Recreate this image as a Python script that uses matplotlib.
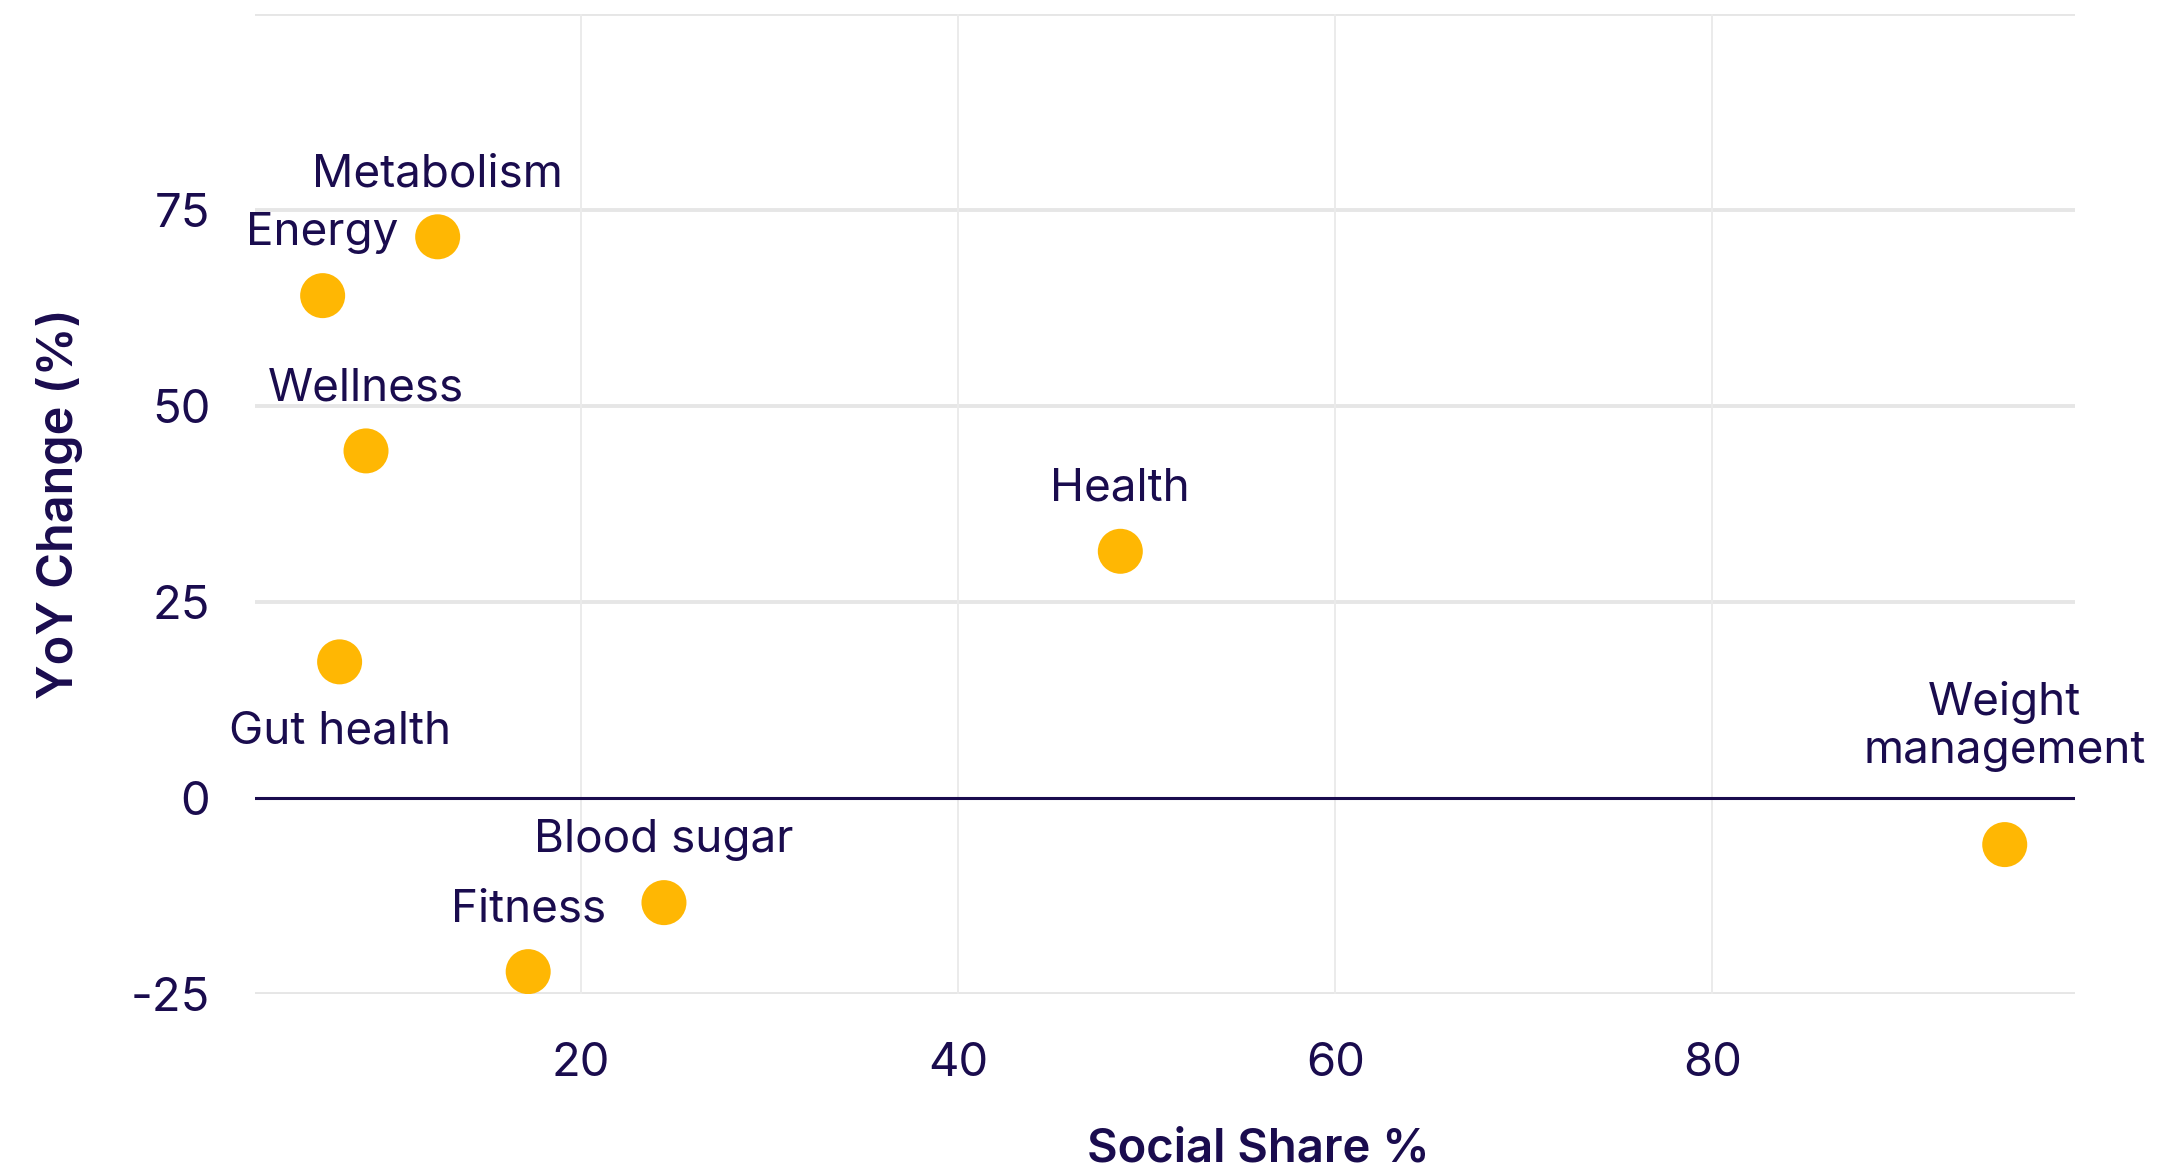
import numpy as np
import matplotlib.pyplot as plt

plt.rcParams['font.family'] = ['Inter', 'DejaVu Sans']

# data
topics = ['Metabolism', 'Energy', 'Wellness', 'Gut health', 'Health',
          'Blood sugar', 'Fitness', 'Weight\nmanagement']
social_share = [12.4, 6.3, 8.6, 7.2, 48.6, 24.4, 17.2, 95.5]
yoy_change = [71.6, 64.1, 44.3, 17.4, 31.5, -13.3, -22.1, -5.9]
label_pos = ['top', 'top', 'top', 'bottom', 'top', 'top', 'top', 'top']

x_ticks = [20, 40, 60, 80]
y_ticks = [-25, 0, 25, 50, 75]

NAVY = '#1a0c4e'
GOLD = '#ffb703'

fig = plt.figure(figsize=(21.83, 11.74), dpi=100)
ax = fig.add_axes([0.1167, 0.153, 0.8336, 0.835])

ax.set_xlim(2.7, 99.2)
ax.set_ylim(-25, 100)
ax.set_xticks(x_ticks)
ax.set_yticks(y_ticks)

# grid
for yv in y_ticks[:1] + y_ticks[2:] + [100]:
    ax.axhline(yv, color='#e6e6e6', lw=2.8, zorder=0)
for xv in x_ticks:
    ax.axvline(xv, color='#ebebeb', lw=1.4, zorder=0)
ax.axhline(0, color=NAVY, lw=2.2, zorder=1)

for s in ax.spines.values():
    s.set_visible(False)
ax.tick_params(length=0, labelsize=34, labelcolor=NAVY)
ax.tick_params(axis='y', pad=32)
ax.tick_params(axis='x', pad=34)
ax.set_yticklabels(['-25', '0', '25', '50', '75'])

ax.scatter(social_share, yoy_change, s=1050, color=GOLD, edgecolors='none', zorder=3)

for name, xv, yv, pos in zip(topics, social_share, yoy_change, label_pos):
    if '\n' in name:
        off = 85
    elif pos == 'top':
        off = 45
    else:
        off = -50
    ax.annotate(name, (xv, yv), xytext=(0, off), textcoords='offset points',
                ha='center', va='center', fontsize=33, color=NAVY,
                linespacing=1.2, zorder=4)

fig.text(0.5765, 0.021, 'Social Share %', ha='center', va='center',
         fontsize=34, fontweight='semibold', color=NAVY)
fig.text(0.0274, 0.571, 'YoY Change (%)', ha='center', va='center',
         rotation=90, fontsize=35, fontweight='semibold', color=NAVY)

fig.savefig('out.png', dpi=100, facecolor='white')
